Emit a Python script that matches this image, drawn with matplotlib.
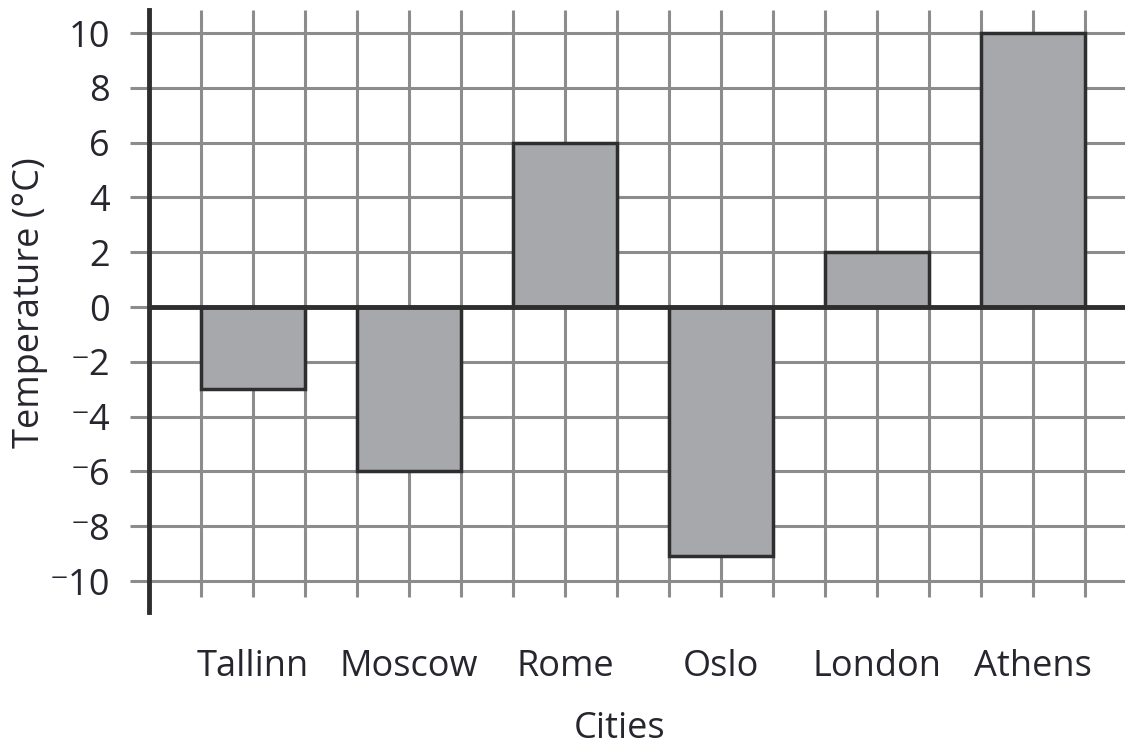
import numpy as np
import matplotlib.pyplot as plt

cities = ["Tallinn", "Moscow", "Rome", "Oslo", "London", "Athens"]
temps = [-3, -6, 6, -9.1, 2, 10]
yticks = [10, 8, 6, 4, 2, 0, -2, -4, -6, -8, -10]
ytick_labels = ["10", "8", "6", "4", "2", "0", "\u207b2", "\u207b4", "\u207b6", "\u207b8", "\u207b10"]

plt.rcParams["font.family"] = ["Open Sans", "DejaVu Sans"]
grid_col = "#8c8c8c"
edge_col = "#2e2e2e"
text_col = "#26262e"

fig = plt.figure(figsize=(11.25, 7.53), dpi=100)
ax = fig.add_axes([149 / 1125, 1 - 612 / 753, 1 - 149 / 1125, 602 / 753])

# each bar covers two grid cells, one empty cell between bars
x = 3 * np.arange(len(cities)) + 2
ymin, ymax = -11.13, 10.84
ax.set_xlim(0, 18.77)
ax.set_ylim(ymin, ymax)

ax.vlines(np.arange(1, 19), -10.6, ymax, color=grid_col, lw=2.2, zorder=1)
ax.hlines(yticks, -0.37, 18.77, color=grid_col, lw=2.2, zorder=1, clip_on=False)

ax.bar(x, temps, width=2, color="#a7a8ab", edgecolor=edge_col, lw=2.5, zorder=2)
ax.axhline(0, color=edge_col, lw=3.5, zorder=3)

for s in ["top", "right", "bottom"]:
    ax.spines[s].set_visible(False)
ax.spines["left"].set_linewidth(3.5)
ax.spines["left"].set_color(edge_col)
ax.spines["left"].set_zorder(4)

ax.set_yticks(yticks)
ax.set_yticklabels(ytick_labels, fontsize=26, color=text_col)
ax.tick_params(axis="y", length=0, pad=28)
ax.set_xticks(x)
ax.set_xticklabels(cities, fontsize=26, color=text_col)
ax.tick_params(axis="x", length=0, pad=27)

fig.text(30 / 1125, 1 - 303 / 753, "Temperature (°C)", rotation=90, fontsize=26,
         color=text_col, ha="center", va="center")
fig.text(620 / 1125, 1 - 729 / 753, "Cities", fontsize=26, color=text_col,
         ha="center", va="center")

fig.savefig("out.png", dpi=100)
